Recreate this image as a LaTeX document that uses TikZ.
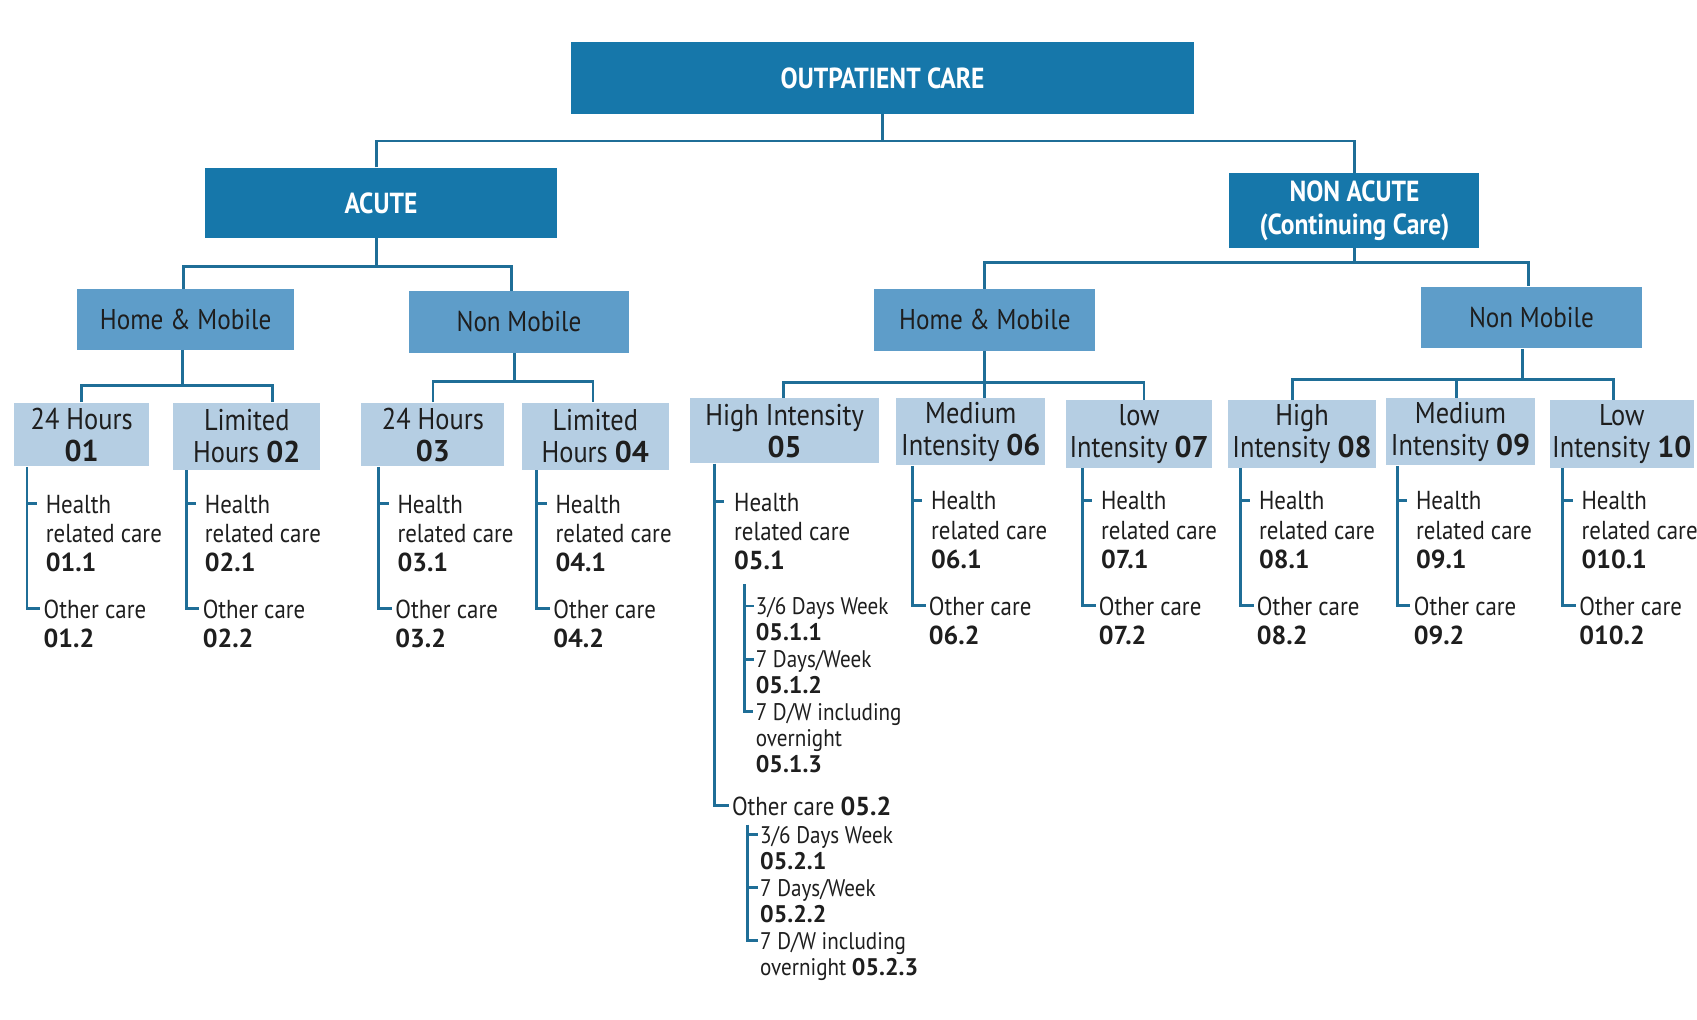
\documentclass[tikz,border=0pt]{standalone}
\usepackage{fontspec}
\setmainfont{PT Sans}[FakeStretch=0.88]
\newfontfamily\numf{PT Sans}
\usetikzlibrary{calc}
\definecolor{dkb}{HTML}{1677AA}
\definecolor{mdb}{HTML}{5E9DC9}
\definecolor{ltb}{HTML}{B5CEE3}
\definecolor{lnc}{HTML}{1F6E97}
\definecolor{txc}{HTML}{1E1E1E}
\newcommand\cn[1]{{\numf\bfseries #1}}
\tikzset{
  wh/.style 2 args={minimum width=#1*0.54115pt, minimum height=#2*0.54115pt},
  boxbase/.style={rectangle, inner sep=0pt, align=center},
  lvla/.style={boxbase, fill=dkb, text=white, font=\bfseries\fontsize{14.5}{16.5}\selectfont},
  lvlb/.style={boxbase, fill=mdb, text=txc, font=\fontsize{14.3}{17}\selectfont},
  lvlc/.style={boxbase, fill=ltb, text=txc, font=\fontsize{15}{16}\selectfont},
  leaf/.style={inner sep=0pt, align=left, anchor=north west, text=txc, font=\fontsize{13}{14.6}\selectfont},
  subleaf/.style={inner sep=0pt, align=left, anchor=north west, text=txc, font=\fontsize{12}{13}\selectfont},
  conn/.style={draw=lnc, line width=1.4pt},
  tick/.style={draw=lnc, line width=1.4pt}
}
\newcommand\stdleaf[5]{%
  \coordinate (#1v) at (#2,0);
  \node[leaf] (#1h) at (#2+17,#3-8) {Health\\related care\\\cn{#4}};
  \node[leaf] (#1o) at (#2+15,#3+97-8) {Other care\\\cn{#5}};
  \coordinate (#1hc) at ([yshift=-4.6pt]#1h.north west);
  \coordinate (#1oc) at ([yshift=-4.6pt,xshift=-1.5pt]#1o.north west);
  \draw[conn] (#1.south -| #1v) |- (#1oc);
  \draw[tick] (#1v |- #1hc) -- ++(9,0);
}
\begin{document}
\begin{tikzpicture}[x=0.54115pt,y=-0.54115pt]
\fill[white] (0,0) rectangle (1568,942);
\useasboundingbox (0,0) rectangle (1568,942);

% level 1
\node[lvla, wh={575}{66}] (top) at (815.5,72) {OUTPATIENT CARE};
\node[lvla, wh={326}{65}] (acute) at (352,187.5) {ACUTE};
\node[lvla, wh={231}{69}] (nacute) at (1251.5,194.5) {NON ACUTE\\(Continuing Care)};
% level 2
\node[lvlb, wh={201}{56}] (hm1) at (171.5,295) {Home \& Mobile};
\node[lvlb, wh={203}{57}] (nm1) at (479.5,297.5) {Non Mobile};
\node[lvlb, wh={204}{57}] (hm2) at (910,295.5) {Home \& Mobile};
\node[lvlb, wh={204}{57}] (nm2) at (1415,293.5) {Non Mobile};
% level 3
\node[lvlc, wh={125}{59}] (b01) at (75.5,401.5) {24 Hours\\\cn{01}};
\node[lvlc, wh={136}{62}] (b02) at (228,403) {Limited\\Hours \cn{02}};
\node[lvlc, wh={132}{59}] (b03) at (400,401.5) {24 Hours\\\cn{03}};
\node[lvlc, wh={136}{62}] (b04) at (550,403) {Limited\\Hours \cn{04}};
\node[lvlc, wh={174}{60}] (b05) at (725,398) {High Intensity\\\cn{05}};
\node[lvlc, wh={138}{62}] (b06) at (897,399) {Medium\\Intensity \cn{06}};
\node[lvlc, wh={135}{62}] (b07) at (1052.5,401) {low\\Intensity \cn{07}};
\node[lvlc, wh={136}{62}] (b08) at (1203,401) {High\\Intensity \cn{08}};
\node[lvlc, wh={137}{62}] (b09) at (1349.5,399) {Medium\\Intensity \cn{09}};
\node[lvlc, wh={133}{62}] (b10) at (1498.5,401) {Low\\Intensity \cn{10}};

% tree connectors
\draw[conn] (top.south) -- ++(0,25) coordinate (t1);
\draw[conn] ($(acute.north)+(-4,0)$) |- (t1) -| (nacute.north);
\draw[conn] ($(acute.south)+(-4,0)$) -- ++(0,26) coordinate (a1);
\draw[conn] ($(hm1.north)+(-2,0)$) |- (a1) -| ($(nm1.north)+(-7,0)$);
\draw[conn] (nacute.south) -- ++(0,13) coordinate (c1);
\draw[conn] (hm2.north) |- (c1) -| ($(nm2.north)+(-3,0)$);

\draw[conn] ($(hm1.south)+(-3,0)$) -- ++(0,33) coordinate (h1);
\draw[conn] (b01.north) |- (h1) -| ($(b02.north)+(24,0)$);
\draw[conn] ($(nm1.south)+(-4,0)$) -- ++(0,26) coordinate (n1);
\draw[conn] (b03.north) |- (n1) -| ($(b04.north)+(-2,0)$);
\draw[conn] (hm2.south) -- (hm2.south |- b06.north);
\draw[conn] ($(b05.north)+(-1,0)$) |- ($(hm2.south)+(0,29)$) -| ($(b07.north)+(4.5,0)$);
\draw[conn] ($(nm2.south)+(-8,0)$) -- ++(0,28) coordinate (n2);
\draw[conn] ($(b08.north)+(-9,0)$) |- (n2) -| ($(b10.north)+(-7.5,0)$);
\coordinate (c9) at ($(b09.north)+(-3.5,0)$);
\draw[conn] (c9) -- (c9 |- n2);

% leaves
\stdleaf{b01}{25}{465}{01.1}{01.2}
\stdleaf{b02}{172}{465}{02.1}{02.2}
\stdleaf{b03}{350}{465}{03.1}{03.2}
\stdleaf{b04}{496}{465}{04.1}{04.2}
\stdleaf{b06}{843}{462}{06.1}{06.2}
\stdleaf{b07}{1000}{462}{07.1}{07.2}
\stdleaf{b08}{1146}{462}{08.1}{08.2}
\stdleaf{b09}{1291}{462}{09.1}{09.2}
\stdleaf{b10}{1444}{462}{010.1}{010.2}

% branch 05
\coordinate (b05v) at (660,0);
\node[leaf] (b05h) at (678,455) {Health\\related care\\\cn{05.1}};
\node[leaf] (b05o) at (676,736) {Other care \cn{05.2}};
\coordinate (b05hc) at ([yshift=-4.6pt]b05h.north west);
\coordinate (b05oc) at ([yshift=-4.6pt,xshift=-1.5pt]b05o.north west);
\draw[conn] (b05.south -| b05v) |- (b05oc);
\draw[tick] (b05v |- b05hc) -- ++(9,0);

\node[subleaf] (s1) at (698,552) {3/6 Days Week\\\cn{05.1.1}};
\node[subleaf] (s2) at (698,601) {7 Days/Week\\\cn{05.1.2}};
\node[subleaf] (s3) at (698,650) {7 D/W including\\overnight\\\cn{05.1.3}};
\coordinate (sv1) at (688,540);
\draw[tick] (sv1) |- ([yshift=-4.2pt,xshift=-1pt]s3.north west);
\draw[tick] (sv1 |- s1.north west) ++(0,8) -- ++(9,0);
\draw[tick] (sv1 |- s2.north west) ++(0,8) -- ++(9,0);

\node[subleaf] (s4) at (702,763) {3/6 Days Week\\\cn{05.2.1}};
\node[subleaf] (s5) at (702,812) {7 Days/Week\\\cn{05.2.2}};
\node[subleaf] (s6) at (702,861) {7 D/W including\\overnight \cn{05.2.3}};
\coordinate (sv2) at (691,762);
\draw[tick] (sv2) |- ([yshift=-4.2pt,xshift=-1pt]s6.north west);
\draw[tick] (sv2 |- s4.north west) ++(0,8) -- ++(9,0);
\draw[tick] (sv2 |- s5.north west) ++(0,8) -- ++(9,0);
\end{tikzpicture}
\end{document}
